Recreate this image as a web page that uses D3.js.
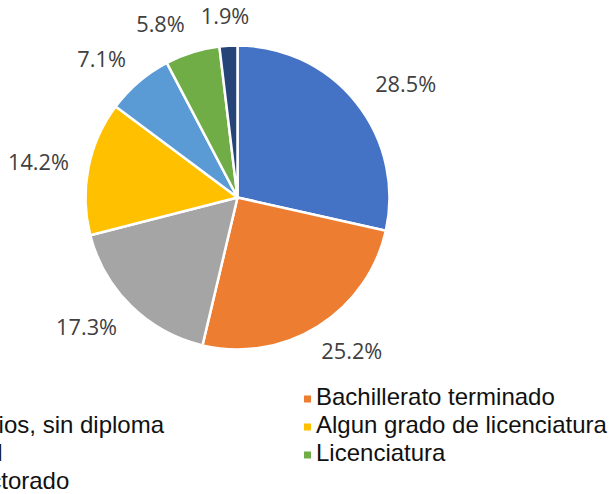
<!DOCTYPE html>
<html>
<head>
<meta charset="utf-8">
<script src="https://cdn.jsdelivr.net/npm/d3@7"></script>
<style>
  html, body { margin: 0; padding: 0; background: #fff; overflow: hidden; }
</style>
</head>
<body>
<script>
// data, clockwise from 12 o'clock
var categories = ['Primaria', 'Bachillerato terminado', 'Algunos estudios, sin diploma',
  'Algun grado de licenciatura', 'Ed. vocacional', 'Licenciatura', 'Maestria / Doctorado']
var values = [28.5, 25.2, 17.3, 14.2, 7.1, 5.8, 1.9]
var colors = ['#4472C4', '#ED7D31', '#A5A5A5', '#FFC000', '#5B9BD5', '#70AD47', '#264478']

var W = 610, H = 494
var cx = 237.5, cy = 197.5, R = 152

var body = d3.select('body')
var svg = body.append('svg')
  .attr('width', W)
  .attr('height', H)

var pie = d3.pie().sort(null).value(function(d){ return d })
var arcs = pie(values)
var arc = d3.arc().innerRadius(0).outerRadius(R)

var pie_group = svg.append('g')
  .attr('transform', 'translate(' + cx + ',' + cy + ')')

//slices
pie_group.selectAll('path')
  .data(arcs)
  .enter().append('path')
  .attr('d', arc)
  .attr('fill', function(d, i){ return colors[i] })
  .attr('stroke', '#fff')
  .attr('stroke-width', 2.5)
  .attr('stroke-linejoin', 'round')

//labels, outside end
var labels = pie_group.selectAll('text.lbl')
  .data(arcs)
  .enter().append('text')
  .attr('class', 'lbl')
  .attr('text-anchor', 'middle')
  .style('font-family', '"Open Sans", sans-serif')
  .style('font-size', '18px')
  .style('fill', '#404040')
  .text(function(d){ return d.data.toFixed(1) + '%' })

// size the label font so that "28.5%" is about 61px wide
var fs = 18 * 61 / labels.node().getComputedTextLength()
labels.style('font-size', fs + 'px')
var capH = fs * 0.7
var gx = 33, gy = 22, plotLeft = 8

var boxes = []
labels.each(function(d){
  var w = this.getComputedTextLength()
  var a = (d.startAngle + d.endAngle) / 2
  var dx = Math.sin(a), dy = -Math.cos(a)
  var x = dx * (R + gx) + dx * w / 2
  var y = dy * (R + gy) + dy * capH / 2
  // keep inside the plot area
  x = Math.max(x, plotLeft - cx + w / 2)
  boxes.push({x: x, y: y, w: w})
})
// push apart labels that collide, working back from the last one
for (var i = boxes.length - 2; i >= 0; i--) {
  var a1 = boxes[i], b1 = boxes[i + 1]
  var overlapY = Math.abs(a1.y - b1.y) < capH + 4
  var minDist = (a1.w + b1.w) / 2 + 16
  if (overlapY && Math.abs(a1.x - b1.x) < minDist) {
    a1.x = b1.x + (a1.x < b1.x ? -minDist : minDist)
  }
}
labels
  .attr('x', function(d, i){ return boxes[i].x })
  .attr('y', function(d, i){ return boxes[i].y + capH / 2 })

//legend, two columns, row by row
var legend_group = svg.append('g')
var colX = [-153.5, 316], rowY0 = 405, rowH = 28, sw = 7
var items = legend_group.selectAll('g')
  .data(categories)
  .enter().append('g')
  .attr('transform', function(d, i){
    return 'translate(' + colX[i % 2] + ',' + (rowY0 + Math.floor(i / 2) * rowH) + ')'
  })
items.append('rect')
  .attr('x', -12)
  .attr('y', -sw - 2.5)
  .attr('width', sw)
  .attr('height', sw)
  .attr('fill', function(d, i){ return colors[i] })
items.append('text')
  .attr('x', 0)
  .attr('y', 0)
  .style('font-family', '"Liberation Sans", Arial, sans-serif')
  .style('font-size', '24px')
  .style('fill', '#111')
  .text(function(d){ return d })
</script>
</body>
</html>
